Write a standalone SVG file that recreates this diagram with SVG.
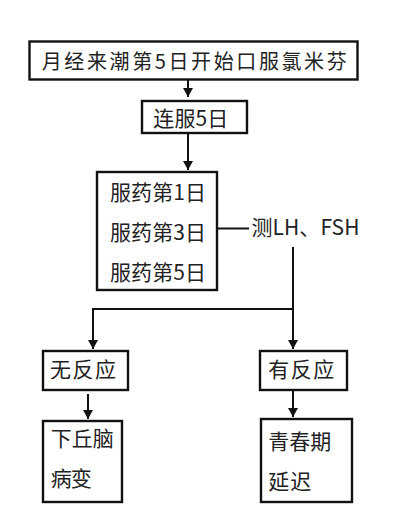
<svg xmlns="http://www.w3.org/2000/svg" width="411" height="531" viewBox="0 0 411 531">
<style>
.box{fill:#fff;stroke:#111;stroke-width:2.4}
.t{font-family:"Noto Sans CJK SC","Noto Sans",sans-serif;font-size:21px;fill:#222}
.s{font-size:20px}
.c{fill:none;stroke:#111;stroke-width:2}
</style>
<defs>
<marker id="ah" markerUnits="userSpaceOnUse" markerWidth="11" markerHeight="11" refX="9" refY="5" orient="auto">
<path d="M0,0 L9,5 L0,10 Z" fill="#111"/>
</marker>
</defs>
<rect width="411" height="531" fill="#fff"/>
<g id="connectors">
<path class="c" d="M188,80 V97" marker-end="url(#ah)"/>
<path class="c" d="M188,133 V170" marker-end="url(#ah)"/>
<path class="c" d="M218,228.5 H249"/>
<path class="c" d="M293,247 V309 M92,309 H294"/>
<path class="c" d="M93,308 V349" marker-end="url(#ah)"/>
<path class="c" d="M293,309 V349" marker-end="url(#ah)"/>
<path class="c" d="M88,394 V419" marker-end="url(#ah)"/>
<path class="c" d="M293,390 V417" marker-end="url(#ah)"/>
</g>
<g id="n1">
<rect class="box" x="29.5" y="41.5" width="328" height="38"/>
<text class="t s" x="41.7" y="68.5" textLength="305" lengthAdjust="spacing">月经来潮第5日开始口服氯米芬</text>
</g>
<g id="n2">
<rect class="box" x="142" y="101" width="105" height="32"/>
<text class="t" x="153.3" y="125.5" textLength="75" lengthAdjust="spacing">连服5日</text>
</g>
<g id="n3">
<rect class="box" x="97" y="172" width="120" height="118"/>
<text class="t" x="110" y="200" textLength="96" lengthAdjust="spacing">服药第1日</text>
<text class="t" x="110" y="240" textLength="96" lengthAdjust="spacing">服药第3日</text>
<text class="t" x="110" y="279.5" textLength="96" lengthAdjust="spacing">服药第5日</text>
</g>
<g id="label">
<text class="t" x="251.5" y="235" textLength="108" lengthAdjust="spacing">测LH、FSH</text>
</g>
<g id="n4">
<rect class="box" x="43" y="351" width="85" height="39"/>
<text class="t" x="50" y="377" textLength="66" lengthAdjust="spacing">无反应</text>
</g>
<g id="n5">
<rect class="box" x="260" y="351" width="87" height="39"/>
<text class="t" x="268.3" y="377" textLength="66" lengthAdjust="spacing">有反应</text>
</g>
<g id="n6">
<rect class="box" x="43" y="421" width="79" height="81"/>
<text class="t" x="50.7" y="445.5" textLength="63" lengthAdjust="spacing">下丘脑</text>
<text class="t" x="50.7" y="485.5" textLength="41" lengthAdjust="spacing">病变</text>
</g>
<g id="n7">
<rect class="box" x="261" y="419" width="91" height="83"/>
<text class="t" x="268.3" y="448.5" textLength="63" lengthAdjust="spacing">青春期</text>
<text class="t" x="268.3" y="488.5" textLength="43" lengthAdjust="spacing">延迟</text>
</g>
</svg>
